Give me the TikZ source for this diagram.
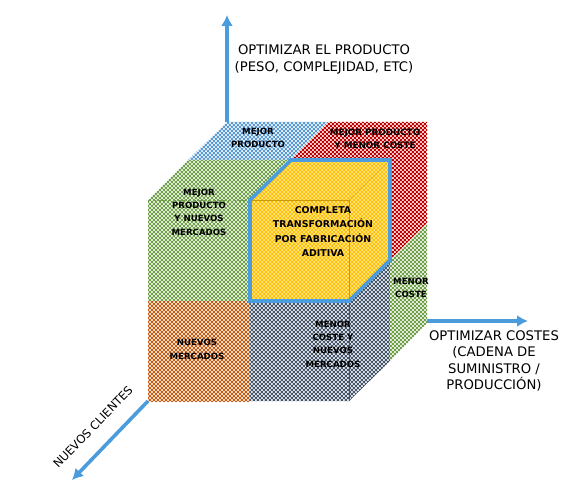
\documentclass[tikz,border=0pt]{standalone}
\usepackage{fontspec}
\setmainfont{DejaVu Sans}
\usepackage{tikz}
\usetikzlibrary{positioning, arrows.meta, patterns}
\definecolor{cazul}{HTML}{5B9BD5}
\definecolor{crojo}{HTML}{C00000}
\definecolor{cverde}{HTML}{70A048}
\definecolor{cnaranja}{HTML}{C55A11}
\definecolor{cpizarra}{HTML}{44546A}
\definecolor{cambar}{HTML}{FFC000}
\definecolor{ceje}{HTML}{4A9CDC}
\pgfdeclarepatternformonly{damero}{\pgfqpoint{0pt}{0pt}}{\pgfqpoint{3.985pt}{3.985pt}}{\pgfqpoint{3.985pt}{3.985pt}}{
  \pgfpathrectangle{\pgfqpoint{0pt}{0pt}}{\pgfqpoint{1.9925pt}{1.9925pt}}
  \pgfpathrectangle{\pgfqpoint{1.9925pt}{1.9925pt}}{\pgfqpoint{1.9925pt}{1.9925pt}}
  \pgfusepath{fill}}

\begin{document}
\begin{tikzpicture}[x=1pt, y=-1pt,
    eje/.style={-{Latex[length=11pt, width=12pt]}, line width=3.6pt, ceje},
    cara/.style={fill=#1!18, postaction={pattern=damero, pattern color=#1}},
    arista/.style={line width=0.6pt, #1},
    contorno/.style={line width=3.6pt, ceje, line join=miter},
    et/.style={font=\fontsize{8.6}{13.4}\selectfont\bfseries, align=center},
    tit/.style={font=\fontsize{13.2}{16.5}\selectfont, align=center}]

  \useasboundingbox (0,0) rectangle (577,494);

  % --- esquinas ---
  \coordinate (fa) at (148,200);
  \coordinate (fb) at (250,200);
  \coordinate (fc) at (349,200);
  \coordinate (fd) at (148,301);
  \coordinate (fe) at (250,301);
  \coordinate (ff) at (349,301);
  \coordinate (fg) at (148,401);
  \coordinate (fh) at (250,401);
  \coordinate (fi) at (349,401);
  \coordinate (ma) at (188,160);
  \coordinate (mb) at (291,160);
  \coordinate (mc) at (390,160);
  \coordinate (md) at (390,260);
  \coordinate (me) at (390,361);
  \coordinate (ta) at (227,122);
  \coordinate (tb) at (328,122);
  \coordinate (tc) at (427,122);
  \coordinate (td) at (427,223);
  \coordinate (te) at (427,323);

  % --- caras ---
  \path[cara=cazul]    (ta) -- (tb) -- (mb) -- (ma) -- cycle;
  \path[cara=crojo]    (tb) -- (tc) -- (td) -- (md) -- (mc) -- (mb) -- cycle;
  \path[cara=cverde]   (ma) -- (mb) -- (fb) -- (fe) -- (fd) -- (fa) -- cycle;
  \path[cara=cnaranja] (fd) -- (fe) -- (fh) -- (fg) -- cycle;
  \path[cara=cpizarra] (fe) -- (ff) -- (md) -- (me) -- (fi) -- (fh) -- cycle;
  \path[cara=cverde]   (md) -- (td) -- (te) -- (me) -- cycle;
  \path[cara=cambar, fill=cambar!45] (fb) -- (mb) -- (mc) -- (md) -- (ff) -- (fe) -- cycle;

  % --- aristas interiores ---
  \draw[arista=cverde, densely dashed] (fa) -- (fb);
  \draw[arista=cambar!80!black] (fb) -- (fc) -- (ff);
  \draw[arista=cambar!80!black, densely dotted] (fc) -- (mc);
  \draw[arista=cpizarra] (ff) -- (fi);
  \draw[contorno] (fb) -- (mb) -- (mc) -- (md) -- (ff) -- (fe) -- cycle;

  % --- ejes ---
  \coordinate (pa) at (227,15);
  \coordinate (pb) at (528,321);
  \coordinate (pc) at (72,480);
  \coordinate (oa) at (427,321);
  \draw[eje] (ta) -- (pa);
  \draw[eje] (oa) -- (pb);
  \draw[eje] (fg) -- (pc);

  % --- textos ---
  \node[tit] (tprod) at (324,59.5) {OPTIMIZAR EL PRODUCTO\\(PESO, COMPLEJIDAD, ETC)};
  \node[tit] (tcost) at (494,361) {OPTIMIZAR COSTES\\(CADENA DE\\SUMINISTRO /\\PRODUCCIÓN)};
  \node[tit, font=\fontsize{11.6}{14}\selectfont, rotate=46] (tclie) at (93,427) {NUEVOS CLIENTES};
  \node[et] (lazul) at (258,138) {MEJOR\\PRODUCTO};
  \node[et, font=\fontsize{8.8}{13.4}\selectfont\bfseries] (lrojo) at (375,139) {MEJOR PRODUCTO\\Y MENOR COSTE};
  \node[et] (lverd) at (199,212) {MEJOR\\PRODUCTO\\Y NUEVOS\\MERCADOS};
  \node[et, font=\fontsize{9.4}{14.4}\selectfont\bfseries] (lamba) at (323,231.5) {COMPLETA\\TRANSFORMACIÓN\\POR FABRICACIÓN\\ADITIVA};
  \node[et] (lcost) at (411,288) {MENOR\\COSTE};
  \node[et] (lnara) at (197,349.5) {NUEVOS\\MERCADOS};
  \node[et] (lpiza) at (333,344) {MENOR\\COSTE Y\\NUEVOS\\MERCADOS};
\end{tikzpicture}
\end{document}
